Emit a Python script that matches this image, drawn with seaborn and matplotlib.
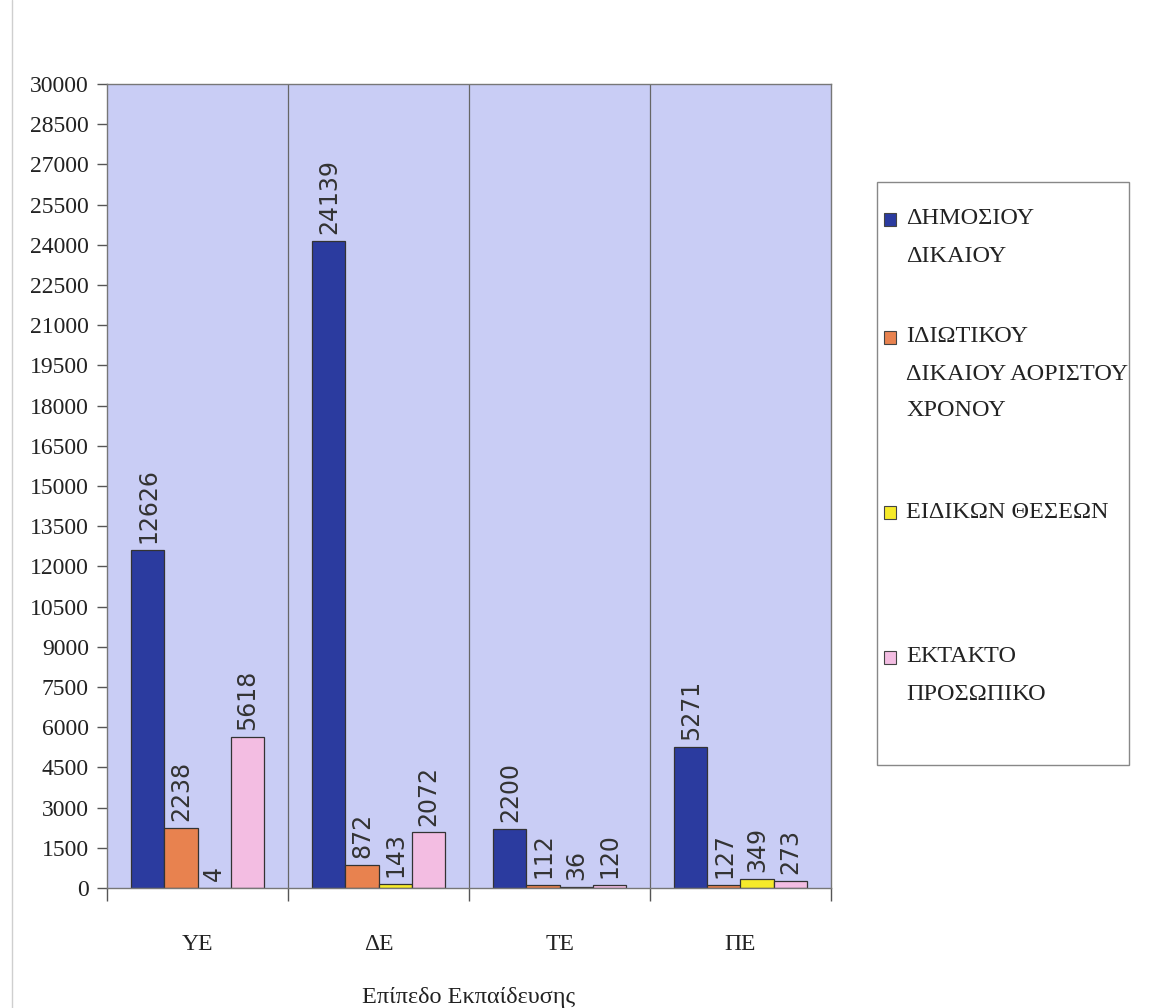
import pandas as pd
import matplotlib
matplotlib.use("Agg")
import matplotlib.pyplot as plt
from matplotlib.patches import Rectangle
from matplotlib.lines import Line2D
import seaborn as sns

# data
levels = ["ΥΕ", "ΔΕ", "ΤΕ", "ΠΕ"]
series = ["ΔΗΜΟΣΙΟΥ\nΔΙΚΑΙΟΥ",
          "ΙΔΙΩΤΙΚΟΥ\nΔΙΚΑΙΟΥ ΑΟΡΙΣΤΟΥ\nΧΡΟΝΟΥ",
          "ΕΙΔΙΚΩΝ ΘΕΣΕΩΝ",
          "ΕΚΤΑΚΤΟ\nΠΡΟΣΩΠΙΚΟ"]
public_law = [12626, 24139, 2200, 5271]
private_law = [2238, 872, 112, 127]
special_posts = [4, 143, 36, 349]
temporary = [5618, 2072, 120, 273]
yticks = list(range(0, 30001, 1500))
xlabel = "Επίπεδο Εκπαίδευσης"

colors = ["#2b3b9f", "#e8824f", "#f6ea2a", "#f3bde2"]

rows = []
for name, vals in zip(series, [public_law, private_law, special_posts, temporary]):
    for lev, v in zip(levels, vals):
        rows.append({"level": lev, "type": name, "count": v})
df = pd.DataFrame(rows)

sns.set_style("white")
plt.rcParams["font.family"] = ["Liberation Serif", "DejaVu Serif"]

W, H = 1149, 1008
fig = plt.figure(figsize=(W / 100, H / 100), dpi=100)
ax = fig.add_axes([107 / W, 1 - 888 / H, (831 - 107) / W, (888 - 84) / H])
ax.set_facecolor("#c9cdf5")

sns.barplot(data=df, x="level", y="count", hue="type", order=levels,
            hue_order=series, palette=colors, width=0.73, saturation=1,
            edgecolor="#333333", linewidth=0.9, legend=False, ax=ax)

for cont in ax.containers:
    ax.bar_label(cont, rotation=90, padding=5, fontsize=17, color="#333333",
                 family=["Liberation Sans Narrow", "DejaVu Sans"])

ax.set_xlim(-0.5, 3.5)
ax.set_ylim(0, 30000)
ax.set_yticks(yticks)
ax.set_yticklabels([str(t) for t in yticks])
ax.tick_params(axis="y", direction="out", length=7, width=1, color="#555555",
               labelsize=17, pad=6, labelcolor="#222222", left=True)

# category separators and ticks between categories
for b in [0.5, 1.5, 2.5]:
    ax.axvline(b, color="#666666", lw=0.9)
ax.set_xticks([-0.5, 0.5, 1.5, 2.5, 3.5], minor=True)
ax.tick_params(axis="x", which="minor", direction="out", length=9, width=1,
               color="#555555", bottom=True)
ax.tick_params(axis="x", which="major", length=0, labelsize=17, pad=33,
               labelcolor="#222222")
ax.set_xlabel(xlabel, fontsize=17.5, labelpad=23, color="#222222")
ax.set_ylabel("")

for s in ax.spines.values():
    s.set_color("#777777")
    s.set_linewidth(1)

# legend box drawn in the Excel style (marker beside the first text line)
fig.add_artist(Rectangle((877 / W, 1 - 765 / H), (1129 - 877) / W, (765 - 182) / H,
                         transform=fig.transFigure, fill=False,
                         edgecolor="#888888", lw=1))
first_line_y = [219, 337, 512, 657]
for name, col, y0 in zip(series, colors, first_line_y):
    fig.add_artist(Rectangle((884 / W, 1 - (y0 + 6.5) / H), 12 / W, 13 / H,
                             transform=fig.transFigure, facecolor=col,
                             edgecolor="#444444", lw=0.8))
    for i, line in enumerate(name.split("\n")):
        fig.text(906 / W, 1 - (y0 + i * 37) / H, line, fontsize=17.5,
                 va="center", ha="left", color="#222222")

# faint page edge on the left of the scan
fig.add_artist(Line2D([12 / W, 12 / W], [0, 1], transform=fig.transFigure,
                      color="#cfcfcf", lw=1))

fig.savefig("out.png", dpi=100)
